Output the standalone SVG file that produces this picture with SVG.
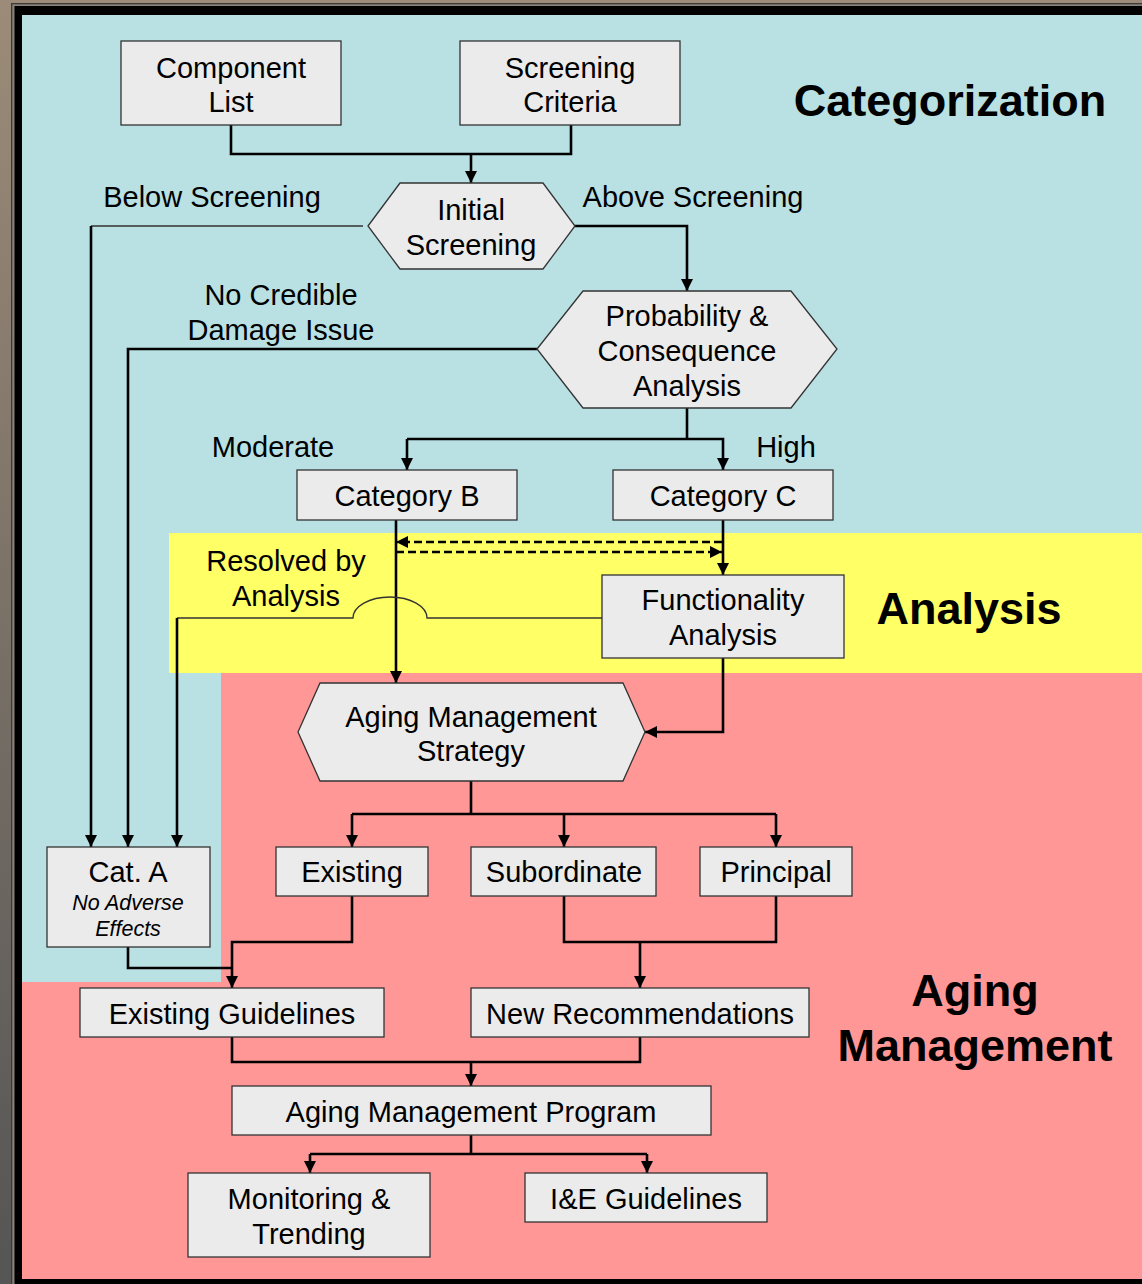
<svg xmlns="http://www.w3.org/2000/svg" width="1142" height="1284" viewBox="0 0 1142 1284">
<defs>
<linearGradient id="bg" x1="0" y1="0" x2="0" y2="1">
<stop offset="0" stop-color="#9c8b78"/>
<stop offset="1" stop-color="#555555"/>
</linearGradient>
<marker id="ah" markerUnits="userSpaceOnUse" markerWidth="13" markerHeight="13" refX="12" refY="6" orient="auto">
<path d="M0,0 L12,6 L0,12 z" fill="#000"/>
</marker>
</defs>
<style>
text{font-family:"Liberation Sans",Arial,sans-serif;font-size:29px;fill:#000;text-anchor:middle}
.title{font-weight:bold;font-size:45px}
.it{font-style:italic;font-size:21.5px}
.node{fill:#ebebeb;stroke:#333;stroke-width:1.3}
.c{fill:none;stroke:#000;stroke-width:2.6}
.thin{fill:none;stroke:#333;stroke-width:1.3}
.dash{fill:none;stroke:#000;stroke-width:2.6;stroke-dasharray:8 4}
</style>
<!-- frame -->
<rect x="0" y="0" width="1142" height="1284" fill="url(#bg)"/>
<rect x="11" y="3" width="1200" height="1300" fill="#3a3a3a"/>
<rect x="12.3" y="4.3" width="1200" height="1300" fill="#8a8078"/>
<rect x="14.5" y="6" width="1200" height="1300" fill="#000"/>
<!-- zones -->
<rect x="22" y="15" width="1120" height="1264" fill="#b9e0e3"/>
<polygon points="221,673 1142,673 1142,1279 22,1279 22,982 221,982" fill="#ff9797"/>
<rect x="169" y="533" width="973" height="140" fill="#ffff66"/>
<text class="title" x="950" y="116">Categorization</text>
<text class="title" x="969" y="624">Analysis</text>
<text class="title" x="975" y="1006">Aging</text>
<text class="title" x="975" y="1061">Management</text>
<!-- connectors -->
<g id="connectors">
<path class="c" d="M231,125 V154 H571 V125"/>
<path class="c" d="M471,154 V183" marker-end="url(#ah)"/>
<path class="thin" d="M363,226 H91"/>
<path class="c" d="M91,226 V847" marker-end="url(#ah)"/>
<path class="c" d="M575,226 H687 V291" marker-end="url(#ah)"/>
<path class="c" d="M537,349 H128 V847" marker-end="url(#ah)"/>
<path class="c" d="M687,408 V439"/>
<path class="c" d="M407,439 H723 V470" marker-end="url(#ah)"/>
<path class="c" d="M407,439 V470" marker-end="url(#ah)"/>
<path class="c" d="M396,520 V683" marker-end="url(#ah)"/>
<path class="c" d="M723,520 V575" marker-end="url(#ah)"/>
<path class="dash" d="M722,542 H396" marker-end="url(#ah)"/>
<path class="dash" d="M396,552 H722" marker-end="url(#ah)"/>
<path class="thin" d="M602,618 H427 A37,21 0 0 0 353,618 H177"/>
<path class="c" d="M177,618 V847" marker-end="url(#ah)"/>
<path class="c" d="M723,658 V732 H645" marker-end="url(#ah)"/>
<path class="c" d="M471,781 V814 M352,814 H776"/>
<path class="c" d="M352,814 V847" marker-end="url(#ah)"/>
<path class="c" d="M564,814 V847" marker-end="url(#ah)"/>
<path class="c" d="M776,814 V847" marker-end="url(#ah)"/>
<path class="c" d="M352,896 V942 H232 V988" marker-end="url(#ah)"/>
<path class="c" d="M128,947 V968 H232"/>
<path class="c" d="M564,896 V942 H776 V896"/>
<path class="c" d="M640,942 V988" marker-end="url(#ah)"/>
<path class="c" d="M232,1037 V1062 H640 V1037"/>
<path class="c" d="M471,1062 V1086" marker-end="url(#ah)"/>
<path class="c" d="M471,1135 V1154 M310,1154 H647"/>
<path class="c" d="M310,1154 V1173" marker-end="url(#ah)"/>
<path class="c" d="M647,1154 V1173" marker-end="url(#ah)"/>
</g>
<!-- labels -->
<text x="212" y="207">Below Screening</text>
<text x="693" y="207">Above Screening</text>
<text x="281" y="305">No Credible</text>
<text x="281" y="340">Damage Issue</text>
<text x="273" y="457">Moderate</text>
<text x="786" y="457">High</text>
<text x="286" y="571">Resolved by</text>
<text x="286" y="606">Analysis</text>
<!-- nodes -->
<g id="component-list"><rect class="node" x="121" y="41" width="220" height="84"/><text x="231" y="78">Component</text><text x="231" y="112">List</text></g>
<g id="screening-criteria"><rect class="node" x="460" y="41" width="220" height="84"/><text x="570" y="78">Screening</text><text x="570" y="112">Criteria</text></g>
<g id="initial-screening"><polygon class="node" points="368,226 400,183 543,183 575,226 543,269 400,269"/><text x="471" y="220">Initial</text><text x="471" y="255">Screening</text></g>
<g id="prob-consequence"><polygon class="node" points="537,349 583,291 791,291 837,349 791,408 583,408"/><text x="687" y="326">Probability &amp;</text><text x="687" y="361">Consequence</text><text x="687" y="396">Analysis</text></g>
<g id="category-b"><rect class="node" x="297" y="470" width="220" height="50"/><text x="407" y="506">Category B</text></g>
<g id="category-c"><rect class="node" x="613" y="470" width="220" height="50"/><text x="723" y="506">Category C</text></g>
<g id="functionality-analysis"><rect class="node" x="602" y="575" width="242" height="83"/><text x="723" y="610">Functionality</text><text x="723" y="645">Analysis</text></g>
<g id="aging-strategy"><polygon class="node" points="298,732 320,683 623,683 645,732 623,781 320,781"/><text x="471" y="727">Aging Management</text><text x="471" y="761">Strategy</text></g>
<g id="cat-a"><rect class="node" x="47" y="847" width="163" height="100"/><text x="128" y="882">Cat. A</text><text class="it" x="128" y="910">No Adverse</text><text class="it" x="128" y="936">Effects</text></g>
<g id="existing"><rect class="node" x="276" y="847" width="152" height="49"/><text x="352" y="882">Existing</text></g>
<g id="subordinate"><rect class="node" x="471" y="847" width="185" height="49"/><text x="564" y="882">Subordinate</text></g>
<g id="principal"><rect class="node" x="700" y="847" width="152" height="49"/><text x="776" y="882">Principal</text></g>
<g id="existing-guidelines"><rect class="node" x="80" y="988" width="304" height="49"/><text x="232" y="1024">Existing Guidelines</text></g>
<g id="new-recommendations"><rect class="node" x="471" y="988" width="338" height="49"/><text x="640" y="1024">New Recommendations</text></g>
<g id="aging-program"><rect class="node" x="232" y="1086" width="479" height="49"/><text x="471" y="1122">Aging Management Program</text></g>
<g id="monitoring"><rect class="node" x="188" y="1173" width="242" height="84"/><text x="309" y="1209">Monitoring &amp;</text><text x="309" y="1244">Trending</text></g>
<g id="ie-guidelines"><rect class="node" x="525" y="1173" width="242" height="49"/><text x="646" y="1209">I&amp;E Guidelines</text></g>
</svg>
